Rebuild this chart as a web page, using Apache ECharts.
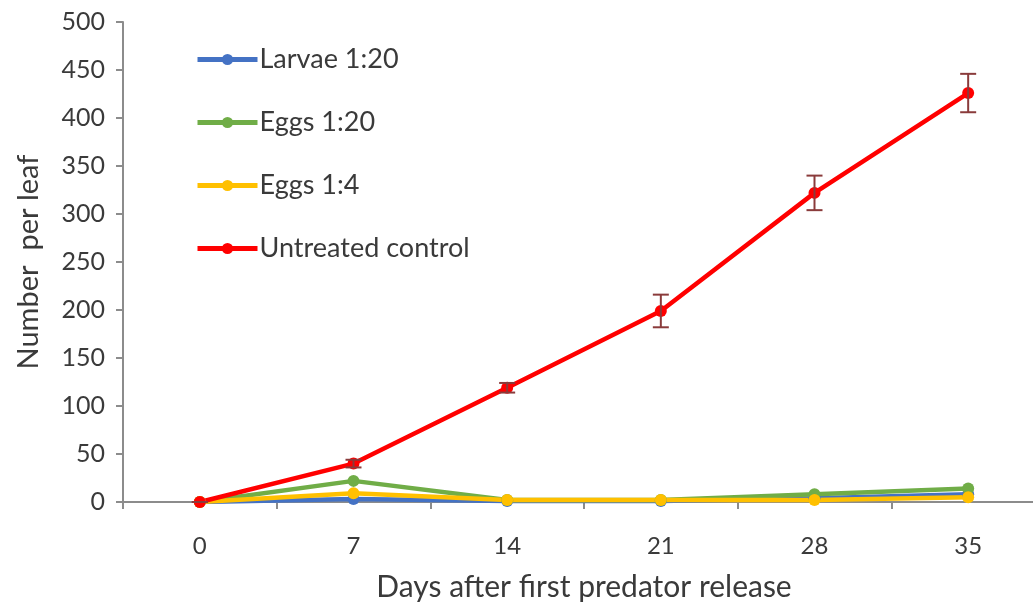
<!DOCTYPE html>
<html>
<head>
<meta charset="utf-8">
<script src="https://cdn.jsdelivr.net/npm/echarts@6/dist/echarts.min.js"></script>
<style>
html,body{margin:0;padding:0;background:#fff;}
#chart{width:1033px;height:608px;}
</style>
</head>
<body>
<div id="chart"></div>
<script>
var days = ['0', '7', '14', '21', '28', '35'];
var yTicks = [0, 50, 100, 150, 200, 250, 300, 350, 400, 450, 500];
var larvae120 = [0, 3, 1, 1, 4, 8];
var eggs120 = [0, 22, 2, 2, 8, 14];
var eggs14 = [0, 9, 2, 2, 2, 5];
var control = [0, 40, 119, 199, 322, 426];
var controlErr = [0, 4, 5, 17, 18, 20];

var FONT = 'Lato, "Open Sans", sans-serif';
var TXT = '#3a3a3a';
var chart = echarts.init(document.getElementById('chart'), null, {renderer: 'canvas'});

function lineSeries(name, data, color) {
  return {
    name: name, type: 'line', data: data,
    symbol: 'circle', symbolSize: 12,
    lineStyle: {color: color, width: 4.5},
    itemStyle: {color: color},
    z: 2
  };
}

var errData = control.map(function (v, i) { return [i, v - controlErr[i], v + controlErr[i]]; });

var option = {
  backgroundColor: '#fff',
  animation: false,
  grid: {left: 123, top: 22, width: 922, height: 480, containLabel: false, outerBoundsMode: 'none'},
  legend: {
    orient: 'vertical', left: 195, top: 46, itemGap: 36, padding: 0,
    itemWidth: 60, itemHeight: 14,
    lineStyle: {width: 5},
    textStyle: {fontFamily: FONT, fontSize: 27, color: TXT, padding: [0, 0, 0, -3]},
    data: ['Larvae 1:20', 'Eggs 1:20', 'Eggs 1:4', 'Untreated control']
  },
  xAxis: {
    type: 'category', data: days, boundaryGap: true,
    name: 'Days after first predator release', nameLocation: 'middle', nameGap: 70,
    nameTextStyle: {fontFamily: FONT, fontSize: 30, color: TXT},
    axisLine: {lineStyle: {color: '#8c8c8c', width: 2}},
    axisTick: {show: true, alignWithLabel: false, length: 7, lineStyle: {color: '#8c8c8c', width: 2}},
    axisLabel: {fontFamily: FONT, fontSize: 24, color: TXT, margin: 32},
    splitLine: {show: false}
  },
  yAxis: {
    type: 'value', min: yTicks[0], max: yTicks[yTicks.length - 1], interval: 50,
    name: 'Number  per leaf', nameLocation: 'middle', nameGap: 80, nameRotate: 90,
    nameTextStyle: {fontFamily: FONT, fontSize: 29, color: TXT},
    axisLine: {show: true, lineStyle: {color: '#8c8c8c', width: 2}},
    axisTick: {show: true, length: 7, lineStyle: {color: '#8c8c8c', width: 2}},
    axisLabel: {fontFamily: FONT, fontSize: 25, color: TXT, margin: 18},
    splitLine: {show: false}
  },
  series: [
    lineSeries('Larvae 1:20', larvae120, '#4472c4'),
    lineSeries('Eggs 1:20', eggs120, '#70ad47'),
    lineSeries('Eggs 1:4', eggs14, '#ffc000'),
    lineSeries('Untreated control', control, '#ff0000'),
    {
      type: 'custom', name: 'err', data: errData, z: 3,
      renderItem: function (params, api) {
        var x = api.value(0);
        var lo = api.coord([x, api.value(1)]);
        var hi = api.coord([x, api.value(2)]);
        var w = 8;
        var st = {stroke: '#8a3b3b', lineWidth: 2};
        return {
          type: 'group',
          children: [
            {type: 'line', shape: {x1: lo[0], y1: lo[1], x2: hi[0], y2: hi[1]}, style: st},
            {type: 'line', shape: {x1: lo[0] - w, y1: lo[1], x2: lo[0] + w, y2: lo[1]}, style: st},
            {type: 'line', shape: {x1: hi[0] - w, y1: hi[1], x2: hi[0] + w, y2: hi[1]}, style: st}
          ]
        };
      },
      encode: {x: 0, y: [1, 2]},
      silent: true
    }
  ]
};
chart.setOption(option);
</script>
</body>
</html>
